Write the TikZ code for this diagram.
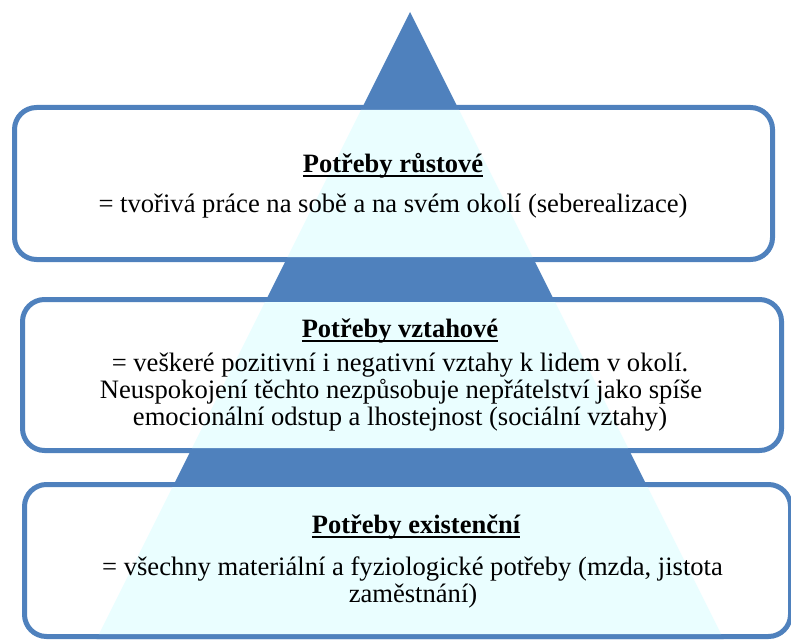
\documentclass[tikz,border=0pt]{standalone}
\usepackage{fontspec}
\setmainfont{Liberation Serif}
\definecolor{pyrblue}{HTML}{4F81BD}
\definecolor{pyrlight}{HTML}{EAFEFF}
\newcommand\titleul[1]{\setbox0\hbox{\bfseries #1}\rlap{\rule[-4.8pt]{\wd0}{2.3pt}}\box0}
\begin{document}
\begin{tikzpicture}[x=1pt,y=-1pt,
  boxshape/.style={rectangle, rounded corners=22pt, fill=white, draw=pyrblue, line width=5pt, inner sep=0pt, outer sep=0pt},
  titletext/.style={anchor=base, inner sep=0pt, font=\fontsize{26.5}{28}\selectfont},
  bodytext/.style={anchor=base, inner sep=0pt, font=\fontsize{26.6}{28}\selectfont}]
\useasboundingbox (0,0) rectangle (791,639);
\coordinate (apex) at (410,12);
\coordinate (bl) at (96.5,639);
\coordinate (br) at (723.5,639);
\fill[pyrblue] (apex) -- (bl) -- (br) -- cycle;
% boxes
\node[boxshape, minimum width=758pt, minimum height=152pt] (b1) at (393.5,183.5) {};
\node[boxshape, minimum width=759pt, minimum height=151pt] (b2) at (402,375) {};
\node[boxshape, minimum width=766pt, minimum height=152pt] (b3) at (407.5,560.5) {};
\foreach \b in {b1,b2,b3}{
  \begin{scope}
    \clip[rounded corners=19.5pt] ([xshift=2.5pt,yshift=2.5pt]\b.south west) rectangle ([xshift=-2.5pt,yshift=-2.5pt]\b.north east);
    \fill[pyrlight] (apex) -- (bl) -- (br) -- cycle;
  \end{scope}
}
% texts
\node[titletext] (t1) at (393,172) {\titleul{Potřeby růstové}};
\node[bodytext] (t1a) at (393,212) {= tvořivá práce na sobě a na svém okolí (seberealizace)};
\node[titletext] (t2) at (400,337) {\titleul{Potřeby vztahové}};
\node[bodytext] (t2a) at (400,371) {= veškeré pozitivní i negativní vztahy k lidem v okolí.};
\node[bodytext] (t2b) at (401,398) {Neuspokojení těchto nezpůsobuje nepřátelství jako spíše};
\node[bodytext] (t2c) at (400,425) {emocionální odstup a lhostejnost (sociální vztahy)};
\node[titletext] (t3) at (416,533) {\titleul{Potřeby existenční}};
\node[bodytext] (t3a) at (412.5,575) {= všechny materiální a fyziologické potřeby (mzda, jistota};
\node[bodytext] (t3b) at (413,602) {zaměstnání)};
\end{tikzpicture}
\end{document}
